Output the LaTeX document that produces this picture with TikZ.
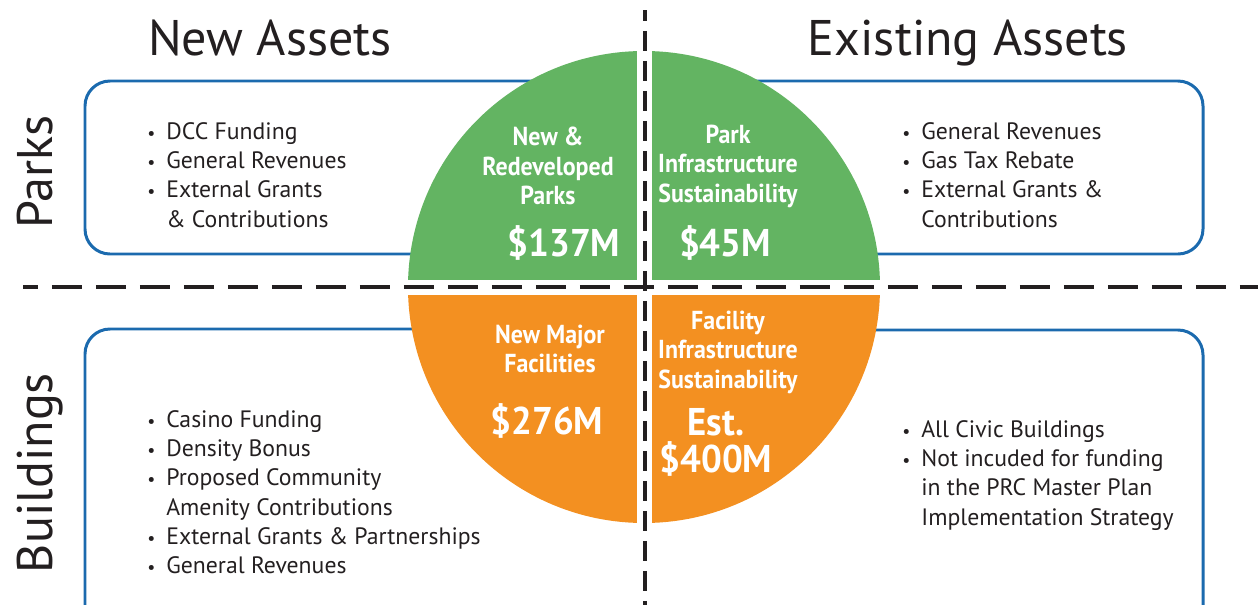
\documentclass[tikz,border=0pt]{standalone}
\usepackage{fontspec}
\setmainfont{PT Sans}
\newfontfamily\condfont[FakeStretch=0.92]{PT Sans}
\newfontfamily\moneyfont[FakeStretch=0.95]{PT Sans}

\definecolor{parkgreen}{HTML}{63B462}
\definecolor{buildorange}{HTML}{F39021}
\definecolor{boxblue}{HTML}{1B6AAE}
\definecolor{dashgrey}{HTML}{231F20}

\newcommand{\bl}{\makebox[0.38cm][l]{\scalebox{0.75}{\textbullet}}}
\newcommand{\nb}{\hspace*{0.38cm}}

\begin{document}
\begin{tikzpicture}[x=0.02cm, y=-0.02cm,
  fundbox/.style={draw=boxblue, line width=1.7pt, rounded corners=0.5cm},
  divider/.style={draw=dashgrey, line width=2.3pt},
  heading/.style={anchor=base, inner sep=0, font=\fontsize{28.5}{30}\selectfont, text=dashgrey},
  sidelabel/.style={heading, rotate=90},
  fundlist/.style={anchor=north west, inner sep=0, align=left, text=dashgrey,
    font=\fontsize{13.5}{16.7}\selectfont},
  quadlabel/.style={align=center, inner sep=0, text=white,
    font=\condfont\bfseries\fontsize{14.8}{16.8}\selectfont},
  money/.style={inner sep=0, text=white,
    font=\moneyfont\bfseries\fontsize{22}{24}\selectfont}]

\useasboundingbox (0,0) rectangle (1258,605);
\clip (0,0) rectangle (1258,605);

% rounded boxes behind the circle
\draw[fundbox] (85,81) rectangle (700,254);
\draw[fundbox] (590,81) rectangle (1203,254);
\draw[fundbox] (620,329) -- (85,329) -- (85,630);
\draw[fundbox] (670,330) -- (1203,330) -- (1203,630);

% the circle, split in four
\fill[parkgreen] (408,287) arc (180:360:236) -- cycle;
\fill[buildorange] (408,287) arc (180:0:236) -- cycle;
\fill[white] (637,40) rectangle (652,535);
\fill[white] (400,280) rectangle (890,295);

% dashed cross
\coordinate (hleft) at (23,287);
\coordinate (hright) at (1258,287);
\coordinate (vtop) at (645,10);
\coordinate (vbottom) at (645,605);
\draw[divider, dash pattern=on 0.6cm off 0.28cm, dash phase=0.3cm] (hleft) -- (hright);
\draw[divider, line width=2pt, dash pattern=on 0.4cm off 0.2cm, dash phase=0.18cm] (vtop) -- (vbottom);

% headings
\node[heading] (newassets) at (270,55) {New Assets};
\node[heading] (oldassets) at (968,55) {Existing Assets};
\node[sidelabel] (parks) at (52,172) {Parks};
\node[sidelabel] (buildings) at (52,473) {Buildings};

% funding sources
\node[fundlist] (parksnew) at (147,122) {\bl DCC Funding\\ \bl General Revenues\\
  \bl External Grants\\ \nb\& Contributions};
\node[fundlist] (parksold) at (902,122) {\bl General Revenues\\ \bl Gas Tax Rebate\\
  \bl External Grants \&\\ \nb Contributions};
\node[fundlist] (buildnew) at (147,410) {\bl Casino Funding\\ \bl Density Bonus\\
  \bl Proposed Community\\ \nb Amenity Contributions\\
  \bl External Grants \& Partnerships\\ \bl General Revenues};
\node[fundlist] (buildold) at (902,420) {\bl All Civic Buildings\\
  \bl Not incuded for funding\\ \nb in the PRC Master Plan\\ \nb Implementation Strategy};

% quadrant labels
\node[quadlabel] (qnewparks) at (548,166) {New \&\\ Redeveloped\\ Parks};
\node[quadlabel] (qoldparks) at (728,166) {Park\\ Infrastructure\\ Sustainability};
\node[quadlabel] (qnewbuild) at (550,349) {New Major\\ Facilities};
\node[quadlabel] (qoldbuild) at (728,352) {Facility\\ Infrastructure\\ Sustainability};
\node[money] (mnewparks) at (564,243) {\$137M};
\node[money] (moldparks) at (725,243) {\$45M};
\node[money] (mnewbuild) at (547,421) {\$276M};
\node[money] (mest) at (716,422) {Est.};
\node[money] (moldbuild) at (716,459) {\$400M};

\end{tikzpicture}
\end{document}
